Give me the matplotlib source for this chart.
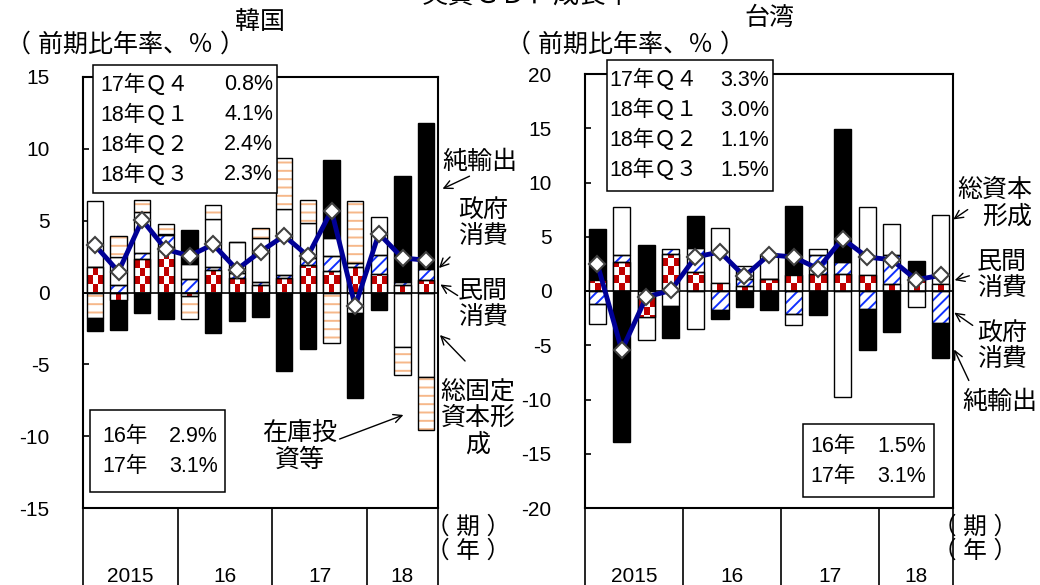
import numpy as np
import matplotlib
matplotlib.use('Agg')
import matplotlib.pyplot as plt
import matplotlib.transforms as mtransforms
from matplotlib.patches import Rectangle
from matplotlib.colors import ListedColormap

plt.rcParams['font.family'] = ['Liberation Sans', 'Noto Sans CJK JP']
plt.rcParams['axes.unicode_minus'] = False
plt.rcParams['hatch.linewidth'] = 1.4

# --- DATA (2015Q1 - 2018Q3, contributions, % annualized) ---
years = ['2015', '16', '17', '18']
quarters_per_year = [4, 4, 4, 3]

kr_private = [1.75, -0.5, 2.33, 3.15, -0.25, 1.55, 1.0, 0.5, 1.0, 1.93, 1.47, 1.8, 1.3, 0.55, 0.88]
kr_gov = [0.0, 0.55, 0.44, 0.85, 0.95, 0.25, 0.35, 0.2, 0.2, 0.5, 1.1, 0.25, 1.28, 0.15, 0.75]
kr_gfcf = [4.6, 1.9, 2.85, 0.1, 1.05, 3.3, 2.15, 3.1, 4.64, 2.44, 1.21, -1.45, 2.65, -3.77, -5.86]
kr_inventory = [-1.8, 1.5, 0.8, 0.7, -1.6, 1.0, 0.0, 0.7, 3.53, 1.54, -3.5, 4.33, -0.1, -1.97, -3.72]
kr_netexp = [-0.9, -2.1, -1.45, -1.85, 2.35, -2.85, -1.95, -1.72, -5.45, -3.93, 5.42, -5.92, -1.1, 7.44, 10.18]
kr_gdp = [3.3, 1.45, 5.05, 3.0, 2.55, 3.35, 1.6, 2.85, 3.95, 2.55, 5.7, -0.95, 4.1, 2.4, 2.25]

tw_private = [0.98, 2.67, -2.4, 3.44, 1.72, 0.74, 0.5, 1.1, 1.44, 1.6, 1.6, 1.44, 0.6, 1.0, 0.67]
tw_gov = [-1.23, 0.61, 0.0, 0.46, 2.27, -1.78, 0.6, 0.0, -2.09, 1.74, 1.07, -1.63, 2.68, 0.5, -2.95]
tw_gcf = [-1.84, 4.45, -2.1, -1.41, -3.5, 5.03, 1.2, 2.2, -1.07, 0.56, -9.8, 6.3, 2.92, -1.47, 6.35]
tw_netexp = [4.76, -13.96, 4.2, -2.9, 2.91, -0.77, -1.5, -1.78, 6.35, -2.24, 12.27, -3.77, -3.77, 1.26, -3.25]
tw_gdp = [2.52, -5.46, -0.55, 0.05, 3.13, 3.6, 1.35, 3.34, 3.13, 2.06, 4.82, 3.13, 2.88, 1.04, 1.44]

q_labels = ['17年Ｑ４', '18年Ｑ１', '18年Ｑ２', '18年Ｑ３']
kr_q_values = ['0.8%', '4.1%', '2.4%', '2.3%']
tw_q_values = ['3.3%', '3.0%', '1.1%', '1.5%']
y_labels = ['16年', '17年']
kr_y_values = ['2.9%', '3.1%']
tw_y_values = ['1.5%', '3.1%']

RED = '#C00000'
BLUE = '#1030FF'
ORANGE = '#F6B88A'
NAVY = '#000096'
BW = 0.7

W, H = 1040, 585
def fx(x): return x / W
def fy(y): return 1 - y / H

fig = plt.figure(figsize=(10.4, 5.85), dpi=100)
axK = fig.add_axes([fx(83), fy(508), (438 - 83) / W, (508 - 77) / H])
axT = fig.add_axes([fx(585), fy(508), (953 - 585) / W, (508 - 74) / H])


def draw_stack(ax, parts, cell_h):
    n = len(parts[0][0])
    x = np.arange(n)
    pos = np.zeros(n)
    neg = np.zeros(n)
    for vals, style in parts:
        v = np.array(vals, float)
        bottom = np.where(v >= 0, pos, neg)
        pos = pos + np.clip(v, 0, None)
        neg = neg + np.clip(v, None, 0)
        if style == 'black':
            ax.bar(x, v, BW, bottom, color='black', edgecolor='black', lw=1, zorder=2)
        elif style == 'white':
            ax.bar(x, v, BW, bottom, color='white', edgecolor='black', lw=1, zorder=2)
        elif style in ('blue', 'orange'):
            col, hat = (BLUE, '///') if style == 'blue' else (ORANGE, '--')
            ax.bar(x, v, BW, bottom, color='white', edgecolor=col, hatch=hat, lw=0, zorder=2)
            ax.bar(x, v, BW, bottom, fill=False, edgecolor='black', lw=1, zorder=2.2)
        elif style == 'check':
            ax.bar(x, v, BW, bottom, color='white', edgecolor='black', lw=1, zorder=2)
            cmap = ListedColormap(['white', RED])
            for i in range(n):
                if v[i] == 0:
                    continue
                x0 = i - BW / 2
                rows = int(np.ceil(abs(v[i]) / cell_h))
                arr = np.add.outer(np.arange(rows), np.arange(3)) % 2
                b = bottom[i]
                if v[i] > 0:
                    ext = [x0, x0 + BW, b, b + rows * cell_h]
                else:
                    arr = arr[::-1]
                    ext = [x0, x0 + BW, b - rows * cell_h, b]
                im = ax.imshow(arr, cmap=cmap, origin='lower', extent=ext,
                               interpolation='nearest', aspect='auto', zorder=2.1)
                im.set_clip_path(Rectangle((x0, min(b, b + v[i])), BW, abs(v[i]),
                                           transform=ax.transData))
            ax.bar(x, v, BW, bottom, fill=False, edgecolor='black', lw=1, zorder=2.2)


def style_axes(ax, ylo, yhi, gdp):
    x = np.arange(len(gdp))
    ax.plot(x, gdp, color=NAVY, lw=3.5, marker='D', ms=8.5, mfc='white',
            mec='#404040', mew=1.5, zorder=5)
    ax.axhline(0, color='black', lw=1.2, zorder=3)
    ax.set_xlim(-0.5, 14.5)
    ax.set_ylim(ylo, yhi)
    ax.set_yticks(range(ylo, yhi + 1, 5))
    ax.tick_params(axis='y', direction='in', length=4, width=1.2, pad=24, labelsize=15)
    bounds = np.concatenate([[-0.5], -0.5 + np.cumsum(quarters_per_year)])
    ax.set_xticks(bounds)
    ax.set_xticklabels([])
    ax.tick_params(axis='x', direction='out', length=56, width=1.2)
    for sp in ax.spines.values():
        sp.set_linewidth(1.5)
    trans = mtransforms.blended_transform_factory(ax.transData, fig.transFigure)
    for k, lab in enumerate(years):
        c = (bounds[k] + bounds[k + 1]) / 2
        ax.text(c, fy(576), lab, transform=trans, ha='center', va='center', fontsize=15)


draw_stack(axK, [(kr_private, 'check'), (kr_gov, 'blue'), (kr_gfcf, 'white'),
                 (kr_inventory, 'orange'), (kr_netexp, 'black')], 0.56)
style_axes(axK, -15, 15, kr_gdp)

draw_stack(axT, [(tw_private, 'check'), (tw_gov, 'blue'), (tw_gcf, 'white'),
                 (tw_netexp, 'black')], 0.74)
style_axes(axT, -20, 20, tw_gdp)


def ftext(x, y, s, size=18, **kw):
    kw.setdefault('ha', 'center')
    kw.setdefault('va', 'center')
    fig.text(fx(x), fy(y), s, fontsize=size, linespacing=1.15, **kw)


def arrow(x0, y0, x1, y1):
    axK.annotate('', xy=(fx(x1), fy(y1)), xycoords='figure fraction',
                 xytext=(fx(x0), fy(y0)), textcoords='figure fraction',
                 arrowprops=dict(arrowstyle='->,head_length=0.6,head_width=0.3',
                                 lw=1, color='black'),
                 annotation_clip=False)


def box(x0, y0, x1, y1, labels, values, ys, xl, xr):
    fig.add_artist(Rectangle((fx(x0), fy(y1)), (x1 - x0) / W, (y1 - y0) / H,
                             transform=fig.transFigure, facecolor='white',
                             edgecolor='black', lw=1.1, zorder=10))
    for lab, val, y in zip(labels, values, ys):
        fig.text(fx(xl), fy(y), lab, ha='left', va='center', fontsize=15.5, zorder=11)
        fig.text(fx(xr), fy(y), val, ha='right', va='center', fontsize=15.5, zorder=11)


# headings (title is cut by the top edge, as in the source image)
ftext(527, -5, '実質ＧＤＰ成長率', size=19)
ftext(125, 45, '（ 前期比年率、％ ）', size=18)
ftext(260, 22, '韓国')
ftext(625, 45, '（ 前期比年率、％ ）', size=18)
ftext(769, 18, '台湾')
for xc in (468, 975):
    ftext(xc, 527, '（ 期 ）', size=17)
    ftext(xc, 552, '（ 年 ）', size=17)

# text boxes
box(93, 65, 277, 193, q_labels, kr_q_values, [85, 115, 145, 175], 100, 273)
box(607, 60, 773, 191, q_labels, tw_q_values, [80, 110, 140, 170], 609, 769)
box(90, 410, 225, 492, y_labels, kr_y_values, [437, 467], 102, 218)
box(803, 424, 934, 497, y_labels, tw_y_values, [447, 477], 810, 926)

# Korea annotations
ftext(480, 162, '純輸出')
arrow(472, 175, 440, 190)
ftext(483, 223, '政府\n消費')
arrow(452, 255, 437, 270)
ftext(483, 304, '民間\n消費')
arrow(460, 297, 438, 283)
ftext(478, 418, '総固定\n資本形\n成')
arrow(467, 363, 438, 333)
ftext(300, 446, '在庫投\n資等')
arrow(337, 440, 406, 414)

# Taiwan annotations
ftext(1032, 203, '総資本\n形成', ha='right', multialignment='right')
arrow(970, 208, 951, 221)
ftext(1002, 275, '民間\n消費')
arrow(972, 275, 952, 281)
ftext(1002, 346, '政府\n消費')
arrow(975, 327, 952, 311)
ftext(1000, 402, '純輸出')
arrow(970, 383, 953, 347)

fig.savefig('out.png', dpi=100)
